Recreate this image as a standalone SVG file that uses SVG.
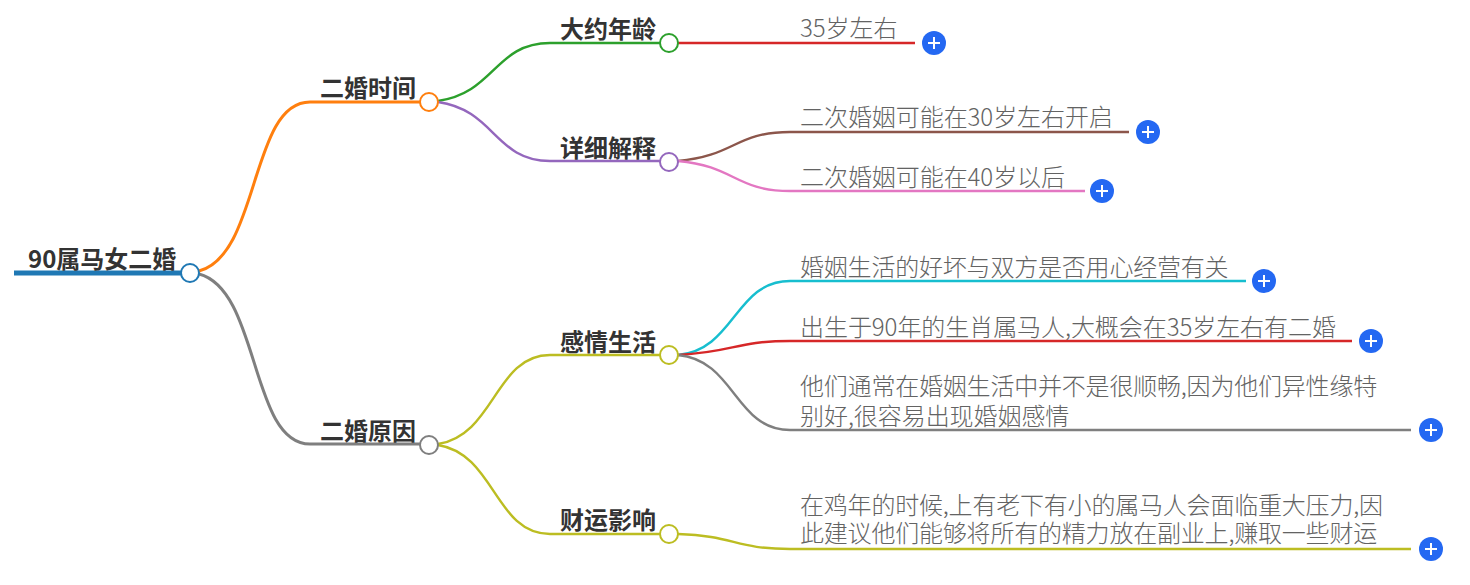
<svg xmlns="http://www.w3.org/2000/svg" width="1470" height="585" viewBox="0 0 1470 585">
<style>
text{font-family:"Noto Sans CJK SC","Noto Sans",sans-serif;font-size:24px}
.b{font-weight:700;fill:#333}
.l{font-weight:300;fill:#636363;letter-spacing:-.2px}
.s{letter-spacing:-.06px}
.c{fill:none;stroke-width:2.4}
.o{fill:#fff;stroke-width:2}
.p{fill:#2468f2}
.x{stroke:#fff;stroke-width:2;fill:none}
</style>
<defs><g id="plus"><circle class="p" r="12"/><path class="x" d="M-6 0H6M0-6V6"/></g></defs>
<rect width="1470" height="585" fill="#fff"/>
<g id="connectors">
<path class="c" style="stroke-width:5" stroke="#1f78b4" d="M14 273H181"/>
<path class="c" style="stroke-width:3" stroke="#ff7f0e" d="M199 271C260 255 250 102 310 102H420"/>
<path class="c" style="stroke-width:3" stroke="#7f7f7f" d="M199 274C260 290 250 444 310 444H420"/>
<path class="c" stroke="#2ca02c" d="M438 101C495 93 495 43 550 43H660"/>
<path class="c" stroke="#9467bd" d="M438 102C495 110 495 161 550 161H660"/>
<path class="c" stroke="#bcbd22" d="M438 444C495 435 495 355 550 355H660"/>
<path class="c" stroke="#bcbd22" d="M438 445C495 454 495 534 550 534H660"/>
<path class="c" stroke="#d62728" d="M678 43H915"/>
<path class="c" stroke="#8c564b" d="M678 161C735 156 735 132 790 132H1129"/>
<path class="c" stroke="#e377c2" d="M678 161C735 166 735 191 790 191H1085"/>
<path class="c" stroke="#17becf" d="M678 355C735 350 735 281 790 281H1246"/>
<path class="c" stroke="#d62728" d="M678 355C735 352 735 341 790 341H1352"/>
<path class="c" stroke="#7f7f7f" d="M678 355C735 360 735 430 790 430H1411"/>
<path class="c" stroke="#bcbd22" d="M678 534C735 536 735 549 790 549H1411"/>
</g>
<g id="root"><text class="b" x="28" y="268">90属马女二婚</text><circle class="o" cx="190" cy="273" r="9" stroke="#1f78b4"/></g>
<g id="n1"><text class="b" x="320" y="97">二婚时间</text><circle class="o" cx="429" cy="102" r="9" stroke="#ff7f0e"/></g>
<g id="n2"><text class="b" x="320" y="440">二婚原因</text><circle class="o" cx="429" cy="445" r="9" stroke="#7f7f7f"/></g>
<g id="n3"><text class="b" x="560" y="38">大约年龄</text><circle class="o" cx="669" cy="43" r="9" stroke="#2ca02c"/></g>
<g id="n4"><text class="b" x="560" y="157">详细解释</text><circle class="o" cx="669" cy="162" r="9" stroke="#9467bd"/></g>
<g id="n5"><text class="b" x="560" y="351">感情生活</text><circle class="o" cx="669" cy="355" r="9" stroke="#bcbd22"/></g>
<g id="n6"><text class="b" x="560" y="529">财运影响</text><circle class="o" cx="669" cy="534" r="9" stroke="#bcbd22"/></g>
<g id="n7"><text class="l s" x="800" y="37">35岁左右</text><use href="#plus" x="934" y="43"/></g>
<g id="n8"><text class="l s" x="800" y="126">二次婚姻可能在30岁左右开启</text><use href="#plus" x="1148" y="132"/></g>
<g id="n9"><text class="l s" x="800" y="186">二次婚姻可能在40岁以后</text><use href="#plus" x="1102" y="191"/></g>
<g id="n10"><text class="l" x="800" y="276">婚姻生活的好坏与双方是否用心经营有关</text><use href="#plus" x="1264" y="281"/></g>
<g id="n11"><text class="l s" x="800" y="336">出生于90年的生肖属马人,大概会在35岁左右有二婚</text><use href="#plus" x="1371" y="341"/></g>
<g id="n12"><text class="l" x="800" y="395">他们通常在婚姻生活中并不是很顺畅,因为他们异性缘特</text><text class="l s" x="800" y="425">别好,很容易出现婚姻感情</text><use href="#plus" x="1431" y="430"/></g>
<g id="n13"><text class="l" x="800" y="514">在鸡年的时候,上有老下有小的属马人会面临重大压力,因</text><text class="l" x="800" y="542">此建议他们能够将所有的精力放在副业上,赚取一些财运</text><use href="#plus" x="1431" y="549"/></g>
</svg>
